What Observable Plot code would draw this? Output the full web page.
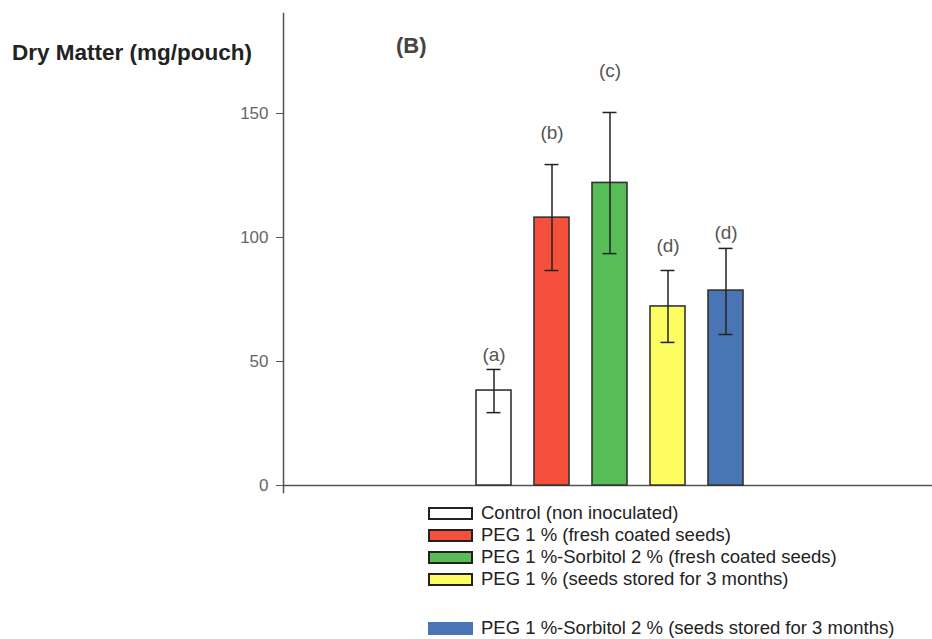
<!DOCTYPE html>
<html>
<head>
<meta charset="utf-8">
<script src="https://cdn.jsdelivr.net/npm/d3@7"></script>
<script src="https://cdn.jsdelivr.net/npm/@observablehq/plot@0.6"></script>
<style>
  html, body { margin: 0; padding: 0; background: #fff; }
  #wrap { position: relative; width: 932px; height: 639px; font-family: "Liberation Sans", Arial, sans-serif; overflow: hidden; }
  #chart { position: absolute; left: 0; top: 0; }
  .ytitle { position: absolute; left: 12px; top: 40px; font-size: 22.5px; font-weight: bold; color: #222; white-space: nowrap; }
  .panel { position: absolute; left: 396px; top: 33px; font-size: 22px; font-weight: bold; color: #444; }
  #legend { position: absolute; left: 428px; top: 502px; font-size: 18.5px; color: #222; }
  .row { display: flex; align-items: center; height: 22px; white-space: nowrap; }
  .sw { width: 41px; height: 9px; border: 2px solid #222; margin-right: 8px; }
  .sw.noborder { width: 45px; height: 13px; border: none; }
</style>
</head>
<body>
<div id="wrap">
  <div id="chart"></div>
  <div class="ytitle">Dry Matter (mg/pouch)</div>
  <div class="panel">(B)</div>
  <div id="legend"></div>
</div>
<script>
// ---- data ----
const categories = [
  "Control (non inoculated)",
  "PEG 1 % (fresh coated seeds)",
  "PEG 1 %-Sorbitol 2 % (fresh coated seeds)",
  "PEG 1 % (seeds stored for 3 months)",
  "PEG 1 %-Sorbitol 2 % (seeds stored for 3 months)"
];
const means   = [38.3, 108, 122, 72.2, 78.6];
const errLow  = [29.4, 86.7, 93.5, 57.7, 60.9];
const errHigh = [46.8, 129.4, 150.4, 86.7, 95.6];
const letters = ["(a)", "(b)", "(c)", "(d)", "(d)"];
const letterY = [52.8, 142.3, 167.3, 96.8, 102];
const colors  = ["#ffffff", "#f4503c", "#58bd57", "#fdfd62", "#4a75b5"];
const yTicks  = [0, 50, 100, 150];

const data = categories.map((c, i) => ({
  cat: c, mean: means[i], lo: errLow[i], hi: errHigh[i],
  letter: letters[i], ly: letterY[i], color: colors[i]
}));

const chart = Plot.plot({
  width: 932,
  height: 500,
  marginTop: 13,
  marginBottom: 8,
  marginLeft: 283,
  marginRight: 0,
  style: { fontFamily: "'Liberation Sans', Arial, sans-serif", background: "transparent" },
  x: { domain: categories, paddingInner: 0.39, paddingOuter: 3.2, align: 0.505, axis: null },
  y: { domain: [-2.8, 190.3], axis: null },
  marks: [
    Plot.ruleY([0], { stroke: "#555", strokeWidth: 1.5 }),
    Plot.barY(data, { x: "cat", y: "mean", fill: "color", stroke: "#333", strokeWidth: 1.6 }),
    Plot.ruleX(data, { x: "cat", y1: "lo", y2: "hi", stroke: "#222", strokeWidth: 1.5 }),
    Plot.tickY(data, { x: "cat", y: "hi", stroke: "#222", strokeWidth: 1.5, insetLeft: 10.5, insetRight: 10.5 }),
    Plot.tickY(data, { x: "cat", y: "lo", stroke: "#222", strokeWidth: 1.5, insetLeft: 10.5, insetRight: 10.5 }),
    Plot.text(data, { x: "cat", y: "ly", text: "letter", fontSize: 19, fill: "#555" }),
    Plot.frame({ anchor: "left", stroke: "#555", strokeWidth: 1.5 }),
    Plot.axisY(yTicks, { anchor: "left", tickSize: 7, tickPadding: 8, fontSize: 17, color: "#666", stroke: "#555", label: null })
  ]
});
document.getElementById("chart").appendChild(chart);

// legend
const legend = document.getElementById("legend");
categories.forEach((c, i) => {
  const row = document.createElement("div");
  row.className = "row";
  if (i === 4) row.style.marginTop = "27px";
  const sw = document.createElement("div");
  sw.className = "sw" + (i === 4 ? " noborder" : "");
  sw.style.background = colors[i];
  const t = document.createElement("span");
  t.textContent = c;
  row.appendChild(sw);
  row.appendChild(t);
  legend.appendChild(row);
});
</script>
</body>
</html>
